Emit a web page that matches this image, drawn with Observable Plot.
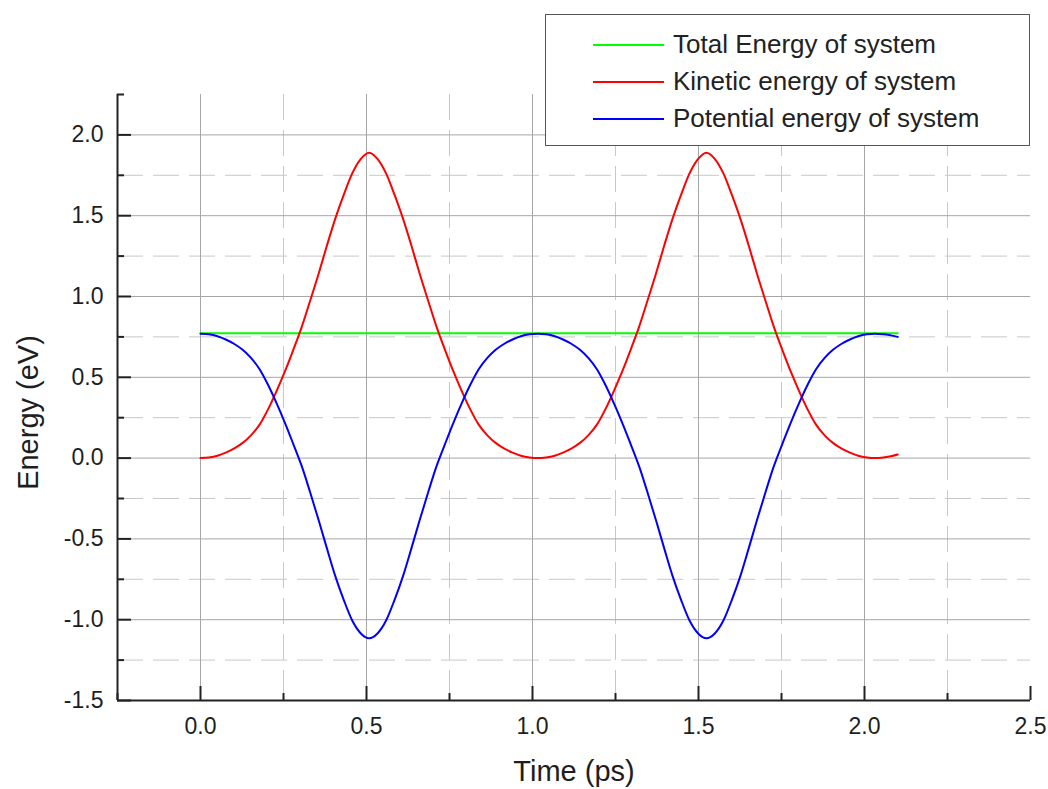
<!DOCTYPE html>
<html>
<head>
<meta charset="utf-8">
<script src="https://cdn.jsdelivr.net/npm/d3@7"></script>
<script src="https://cdn.jsdelivr.net/npm/@observablehq/plot@0.6"></script>
<style>
  body { margin: 0; background: #fff; }
  #wrap { position: relative; width: 1048px; height: 789px; font-family: "Liberation Sans", Arial, sans-serif; }
  #legend { position: absolute; left: 545px; top: 14px; width: 485px; height: 132px; box-sizing: border-box;
            border: 1px solid #555; background: #fff; padding-top: 11px; }
  .row { display: flex; align-items: center; height: 37px; }
  .sw { margin-left: 47px; width: 71px; height: 2px; margin-right: 9px; }
  .lab { font-size: 26px; color: #222; white-space: nowrap; }
</style>
</head>
<body>
<div id="wrap"><div id="legend"></div></div>
<script>
// ---- axes / ticks ----
const xDomain = [-0.25, 2.5];
const yDomain = [-1.5, 2.25];
const xMajor = [0, 0.5, 1.0, 1.5, 2.0, 2.5];
const xMinor = [-0.25, 0.25, 0.75, 1.25, 1.75, 2.25];
const yMajor = [-1.5, -1.0, -0.5, 0.0, 0.5, 1.0, 1.5, 2.0];
const yMinor = [-1.25, -0.75, -0.25, 0.25, 0.75, 1.25, 1.75, 2.25];
const xLabel = "Time (ps)";
const yLabel = "Energy (eV)";

// ---- series ----
const seriesNames = ["Total Energy of system", "Kinetic energy of system", "Potential energy of system"];
const seriesColors = ["#00ff00", "#ff0000", "#0000ff"];

const time = [0, 0.025, 0.051, 0.076, 0.102, 0.127, 0.152, 0.178, 0.203, 0.229,
  0.254, 0.279, 0.305, 0.330, 0.356, 0.381, 0.406, 0.432, 0.457, 0.483,
  0.508, 0.533, 0.559, 0.584, 0.610, 0.635, 0.660, 0.686, 0.711, 0.737,
  0.762, 0.787, 0.813, 0.838, 0.864, 0.889, 0.914, 0.940, 0.965, 0.991,
  1.016, 1.041, 1.067, 1.092, 1.118, 1.143, 1.168, 1.194, 1.219, 1.245,
  1.270, 1.295, 1.321, 1.346, 1.372, 1.397, 1.422, 1.448, 1.473, 1.499,
  1.524, 1.549, 1.575, 1.600, 1.626, 1.651, 1.676, 1.702, 1.727, 1.753,
  1.778, 1.803, 1.829, 1.854, 1.880, 1.905, 1.930, 1.956, 1.981, 2.007,
  2.032, 2.057, 2.083, 2.100];

const kinetic = [0, 0.004, 0.015, 0.034, 0.060, 0.094, 0.141, 0.207, 0.30, 0.415,
  0.535, 0.667, 0.812, 0.972, 1.142, 1.317, 1.482, 1.632, 1.762, 1.852,
  1.89, 1.852, 1.762, 1.632, 1.482, 1.317, 1.142, 0.972, 0.812, 0.667,
  0.535, 0.415, 0.30, 0.207, 0.141, 0.094, 0.060, 0.034, 0.015, 0.004,
  0, 0.004, 0.015, 0.034, 0.060, 0.094, 0.141, 0.207, 0.30, 0.415,
  0.535, 0.667, 0.812, 0.972, 1.142, 1.317, 1.482, 1.632, 1.762, 1.852,
  1.89, 1.852, 1.762, 1.632, 1.482, 1.317, 1.142, 0.972, 0.812, 0.667,
  0.535, 0.415, 0.30, 0.207, 0.141, 0.094, 0.060, 0.034, 0.015, 0.004,
  0, 0.004, 0.013, 0.022];

const potential = [0.77, 0.766, 0.754, 0.734, 0.706, 0.67, 0.62, 0.55, 0.455, 0.34,
  0.22, 0.09, -0.05, -0.21, -0.385, -0.56, -0.73, -0.88, -1.005, -1.085,
  -1.115, -1.085, -1.005, -0.88, -0.73, -0.56, -0.385, -0.21, -0.05, 0.09,
  0.22, 0.34, 0.455, 0.55, 0.62, 0.67, 0.706, 0.734, 0.754, 0.766,
  0.77, 0.766, 0.754, 0.734, 0.706, 0.67, 0.62, 0.55, 0.455, 0.34,
  0.22, 0.09, -0.05, -0.21, -0.385, -0.56, -0.73, -0.88, -1.005, -1.085,
  -1.115, -1.085, -1.005, -0.88, -0.73, -0.56, -0.385, -0.21, -0.05, 0.09,
  0.22, 0.34, 0.455, 0.55, 0.62, 0.67, 0.706, 0.734, 0.754, 0.766,
  0.77, 0.766, 0.758, 0.75];

const totalTime = [0, 2.1];
const totalEnergy = [0.773, 0.773];

// ---- layout ----
const W = 1048, H = 789;
const mL = 117, mR = 18, mT = 94, mB = 89;
const plotW = W - mL - mR, plotH = H - mT - mB;

const kRows = time.map((t, i) => ({t, e: kinetic[i]}));
const uRows = time.map((t, i) => ({t, e: potential[i]}));
const tRows = totalTime.map((t, i) => ({t, e: totalEnergy[i]}));

const fmt = d => d.toFixed(1);
const axisColor = "#222";
const textColor = "#1e1e1e";

const chart = Plot.plot({
  width: W, height: H,
  marginLeft: mL, marginRight: mR, marginTop: mT, marginBottom: mB,
  style: {fontFamily: "'Liberation Sans', Arial, sans-serif", color: "#222", background: "#fff"},
  x: {domain: xDomain, axis: null},
  y: {domain: yDomain, axis: null},
  marks: [
    // minor dashed grid
    Plot.ruleY(yMinor.filter(d => d < yDomain[1]), {stroke: "#c8c8c8", strokeWidth: 1, strokeDasharray: "26,10"}),
    Plot.ruleX(xMinor.filter(d => d > xDomain[0]), {stroke: "#c8c8c8", strokeWidth: 1, strokeDasharray: "26,10"}),
    // major solid grid
    Plot.ruleY(yMajor.filter(d => d > yDomain[0]), {stroke: "#a6a6a6", strokeWidth: 1}),
    Plot.ruleX(xMajor.filter(d => d < xDomain[1]), {stroke: "#a6a6a6", strokeWidth: 1}),
    // curves
    Plot.line(tRows, {x: "t", y: "e", stroke: seriesColors[0], strokeWidth: 2}),
    Plot.line(kRows, {x: "t", y: "e", stroke: seriesColors[1], strokeWidth: 2, curve: "monotone-x"}),
    Plot.line(uRows, {x: "t", y: "e", stroke: seriesColors[2], strokeWidth: 2, curve: "monotone-x"}),
    // axis lines
    Plot.ruleX([xDomain[0]], {stroke: axisColor, strokeWidth: 2}),
    Plot.ruleY([yDomain[0]], {stroke: axisColor, strokeWidth: 2}),
    // inward ticks
    Plot.ruleX(xMajor, {insetTop: plotH - 14, stroke: axisColor, strokeWidth: 2}),
    Plot.ruleX(xMinor, {insetTop: plotH - 7, stroke: axisColor, strokeWidth: 2}),
    Plot.ruleY(yMajor, {insetRight: plotW - 14, stroke: axisColor, strokeWidth: 2}),
    Plot.ruleY(yMinor, {insetRight: plotW - 7, stroke: axisColor, strokeWidth: 2}),
    // tick labels
    Plot.text(xMajor, {x: d => d, text: fmt, frameAnchor: "bottom", textAnchor: "middle", lineAnchor: "top", dy: 17, fontSize: 23, fill: textColor}),
    Plot.text(yMajor, {y: d => d, text: fmt, frameAnchor: "left", textAnchor: "end", lineAnchor: "middle", dx: -14, fontSize: 23, fill: textColor}),
    // axis titles
    Plot.text([xLabel], {text: d => d, frameAnchor: "bottom", textAnchor: "middle", lineAnchor: "middle", dy: 71, fontSize: 29, fill: textColor}),
    Plot.text([yLabel], {text: d => d, frameAnchor: "left", textAnchor: "middle", lineAnchor: "middle", rotate: -90, dx: -89, dy: 15, fontSize: 29, fill: textColor})
  ]
});

const wrap = document.getElementById("wrap");
wrap.insertBefore(chart, wrap.firstChild);

const legend = document.getElementById("legend");
seriesNames.forEach((name, i) => {
  const row = document.createElement("div");
  row.className = "row";
  const sw = document.createElement("div");
  sw.className = "sw";
  sw.style.background = seriesColors[i];
  const lab = document.createElement("span");
  lab.className = "lab";
  lab.textContent = name;
  row.appendChild(sw);
  row.appendChild(lab);
  legend.appendChild(row);
});
</script>
</body>
</html>
